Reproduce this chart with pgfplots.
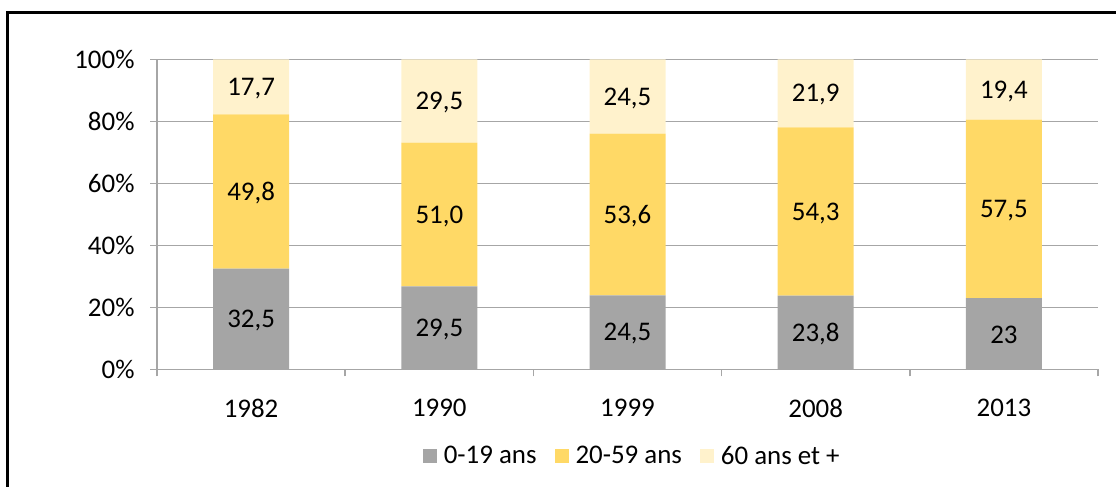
\documentclass[border=0pt]{standalone}
\usepackage{fontspec}
\setmainfont{Carlito}
\usepackage{pgfplots}
\pgfplotsset{compat=1.18}
\usepackage{pgfplotstable}

\definecolor{grisbar}{HTML}{A5A5A5}
\definecolor{jaune}{HTML}{FFD966}
\definecolor{creme}{HTML}{FFF2CC}
\definecolor{grille}{HTML}{A6A6A6}

% Population by age group (raw shares), with the labels as printed
\pgfplotstableread{
x year a    b    c    la   lb   lc
0 1982 32.5 49.8 17.7 32,5 49,8 17,7
1 1990 29.5 51.0 29.5 29,5 51,0 29,5
2 1999 24.5 53.6 24.5 24,5 53,6 24,5
3 2008 23.8 54.3 21.9 23,8 54,3 21,9
4 2013 23.0 57.5 19.4 23   57,5 19,4
}\ages

\newcommand{\tot}{(\thisrow{a}+\thisrow{b}+\thisrow{c})}

\pgfplotsset{
  cadre/.style={
    at={(157bp,117.5bp)}, anchor=south west,
    scale only axis, width=941bp, height=310bp,
    xmin=-0.5, xmax=4.5, ymin=0, ymax=100,
    font=\fontsize{27}{32}\selectfont,
    /pgf/number format/assume math mode=true,
  },
}

\begin{document}
\begin{tikzpicture}
\useasboundingbox (0,0) rectangle (1116bp,487bp);

\begin{axis}[
  cadre,
  ybar stacked, bar width=76bp,
  axis x line*=bottom, axis y line*=left,
  axis line style={grille, line width=1.6bp},
  xtick={0,...,4},
  xticklabels={1982,1990,1999,2008,2013},
  minor xtick={-0.5,0.5,...,4.5},
  major x tick style={draw=none},
  minor x tick style={grille, line width=1.6bp},
  ytick={0,20,...,100},
  yticklabel={\pgfmathprintnumber{\tick}\%},
  ytick style={grille, line width=1.6bp},
  tick align=outside,
  major tick length=7bp, minor tick length=7bp,
  ymajorgrids,
  grid style={grille, line width=1.6bp},
  yticklabel style={xshift=-12bp},
  xticklabel style={yshift=-19bp},
  legend columns=3,
  legend style={
    draw=none, fill=none,
    at={(0.505,-0.279)}, anchor=center,
    /tikz/every even column/.append style={column sep=16bp},
    /tikz/every odd column/.append style={column sep=5bp},
  },
  legend image code/.code={\fill[#1] (0bp,-7bp) rectangle (14bp,7bp);},
]
\addplot[fill=grisbar, draw=none] table[x=x, y expr={100*\thisrow{a}/\tot}] {\ages};
\addplot[fill=jaune, draw=none] table[x=x, y expr={100*\thisrow{b}/\tot}] {\ages};
\addplot[fill=creme, draw=none] table[x=x, y expr={100*\thisrow{c}/\tot}] {\ages};
\legend{0-19 ans, 20-59 ans, 60 ans et +}
\end{axis}

% value labels, centred in each segment
\begin{axis}[
  cadre, hide axis,
  nodes near coords,
  point meta=explicit symbolic,
  every node near coord/.style={anchor=center, text=black, yshift=-1.5bp},
]
\addplot[draw=none, mark=none] table[x=x, y expr={50*\thisrow{a}/\tot}, meta=la] {\ages};
\addplot[draw=none, mark=none] table[x=x, y expr={100*(\thisrow{a}+0.5*\thisrow{b})/\tot}, meta=lb] {\ages};
\addplot[draw=none, mark=none] table[x=x, y expr={100*(\thisrow{a}+\thisrow{b}+0.5*\thisrow{c})/\tot}, meta=lc] {\ages};
\end{axis}

% frame of the figure
\draw[line width=3bp, line join=miter] (7.5bp,0bp) -- (7.5bp,474.5bp) -- (1116bp,474.5bp);
\end{tikzpicture}
\end{document}
